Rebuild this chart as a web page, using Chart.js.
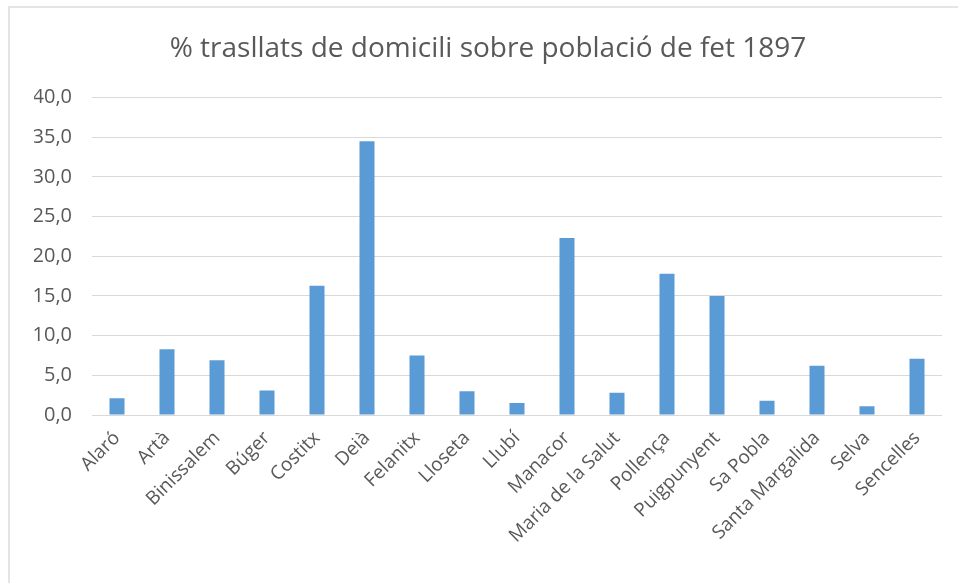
<!DOCTYPE html>
<html>
<head>
<meta charset="utf-8">
<script src="https://cdn.jsdelivr.net/npm/chart.js@4"></script>
<style>
  html, body { margin: 0; padding: 0; background: #ffffff; }
  #wrap { position: relative; width: 958px; height: 583px; overflow: hidden; }
  #frameTop { position: absolute; left: 8px; top: 6px; width: 950px; height: 2px; background: #e4e4e4; }
  #frameLeft { position: absolute; left: 8px; top: 6px; width: 2px; height: 577px; background: #e4e4e4; }
  canvas { position: absolute; left: 0; top: 0; }
</style>
</head>
<body>
<div id="wrap">
  <div id="frameTop"></div>
  <div id="frameLeft"></div>
  <canvas id="c" width="958" height="583"></canvas>
</div>
<script>
const titleText = "% trasllats de domicili sobre població de fet 1897";
const categories = ["Alaró", "Artà", "Binissalem", "Búger", "Costitx", "Deià", "Felanitx", "Lloseta", "Llubí", "Manacor", "Maria de la Salut", "Pollença", "Puigpunyent", "Sa Pobla", "Santa Margalida", "Selva", "Sencelles"];
const values = [2.1, 8.3, 6.9, 3.1, 16.3, 34.5, 7.5, 3.0, 1.5, 22.3, 2.8, 17.8, 15.0, 1.8, 6.2, 1.1, 7.1];
const yTicks = [0, 5, 10, 15, 20, 25, 30, 35, 40];

const textColor = "#595959";
const fontFamily = "'Open Sans', 'Noto Sans', sans-serif";

new Chart(document.getElementById("c"), {
  type: "bar",
  data: {
    labels: categories,
    datasets: [{
      data: values,
      backgroundColor: "#5B9BD5",
      borderWidth: 0,
      categoryPercentage: 1.0,
      barPercentage: 0.3
    }]
  },
  options: {
    responsive: false,
    animation: false,
    layout: { padding: { left: 34, right: 16, top: 0, bottom: 0 } },
    plugins: {
      legend: { display: false },
      tooltip: { enabled: false },
      title: {
        display: true,
        text: titleText,
        color: textColor,
        font: { family: fontFamily, size: 28, weight: "normal" },
        padding: { top: 32, bottom: 32 }
      }
    },
    scales: {
      x: {
        grid: { display: false, drawTicks: false },
        border: { display: false },
        ticks: {
          autoSkip: false,
          maxRotation: 45,
          minRotation: 45,
          padding: 12,
          color: textColor,
          font: { family: fontFamily, size: 19 }
        },
        afterFit: (s) => { s.height = 168; }
      },
      y: {
        min: 0,
        max: 40,
        afterBuildTicks: (s) => { s.ticks = yTicks.map(v => ({ value: v })); },
        grid: { color: "#d9d9d9", lineWidth: 1, drawTicks: false },
        border: { display: false },
        ticks: {
          padding: 20,
          color: textColor,
          font: { family: fontFamily, size: 20 },
          callback: (v) => v.toFixed(1).replace(".", ",")
        },
        afterFit: (s) => { s.width = 58; }
      }
    }
  }
});
</script>
</body>
</html>
